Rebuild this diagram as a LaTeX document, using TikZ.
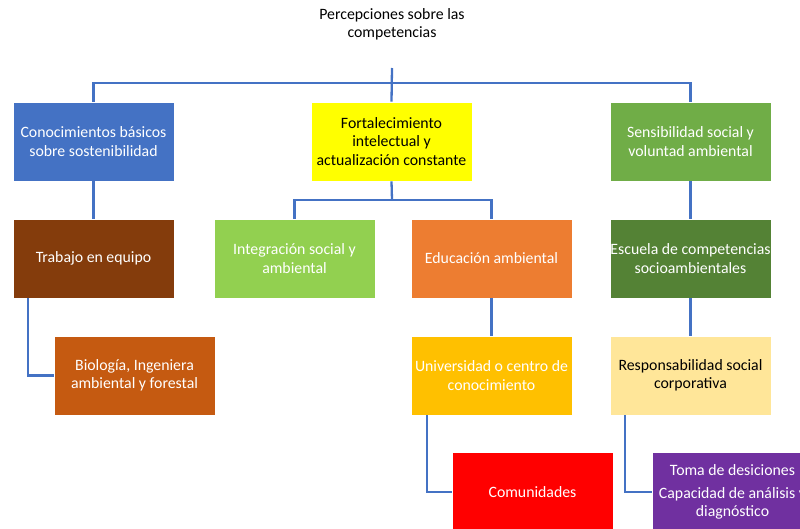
\documentclass[tikz,border=0pt]{standalone}
\usepackage{fontspec}
\setmainfont{Carlito}
\begin{document}
\begin{tikzpicture}[x=1pt,y=-1pt,
  box/.style={minimum width=161pt,minimum height=79pt,inner sep=0pt,align=center,draw=white,line width=0.6pt,font=\fontsize{15.8}{18.5}\selectfont,text=white},
  conn/.style={draw=blueline,line width=2.3pt}]
\definecolor{blueline}{HTML}{4472C4}
\definecolor{cblue}{HTML}{4472C4}
\definecolor{cyellow}{HTML}{FFFF00}
\definecolor{cgreen}{HTML}{70AD47}
\definecolor{cbrown}{HTML}{843C0C}
\definecolor{clgreen}{HTML}{92D050}
\definecolor{corange}{HTML}{ED7D31}
\definecolor{cdgreen}{HTML}{548235}
\definecolor{crust}{HTML}{C55A11}
\definecolor{cgold}{HTML}{FFC000}
\definecolor{ccream}{HTML}{FFE699}
\definecolor{cred}{HTML}{FF0000}
\definecolor{cpurple}{HTML}{7030A0}
\useasboundingbox (0,0) rectangle (800,529);
\clip (0,0) rectangle (800,529);
\node[align=center,font=\fontsize{15.8}{18}\selectfont] (title) at (392,24) {Percepciones sobre las\\competencias};
\node[box,fill=cblue] (conoc) at (93.5,141.5) {Conocimientos básicos\\sobre sostenibilidad};
\node[box,fill=cyellow,text=black] (fort) at (391.5,141.5) {Fortalecimiento\\intelectual y\\actualización constante};
\node[box,fill=cgreen] (sens) at (690.5,141.5) {Sensibilidad social y\\voluntad ambiental};
\node[box,fill=cbrown] (trab) at (93.5,258.5) {Trabajo en equipo};
\node[box,fill=clgreen] (integ) at (294.5,258.5) {Integración social y\\ambiental};
\node[box,fill=corange] (educ) at (491.5,258.5) {Educación ambiental};
\node[box,fill=cdgreen] (escu) at (690.5,258.5) {Escuela de competencias\\socioambientales};
\node[box,fill=crust] (bio) at (134.5,375.5) {Biología, Ingeniera\\ambiental y forestal};
\node[box,fill=cgold] (univ) at (491.5,375.5) {Universidad o centro de\\conocimiento};
\node[box,fill=ccream,text=black] (resp) at (690.5,375.5) {Responsabilidad social\\corporativa};
\node[box,fill=cred] (comu) at (532.5,492) {Comunidades};
\node[box,fill=cpurple] (toma) at (732.5,492) {Toma de desiciones\\[4pt]Capacidad de análisis y\\diagnóstico};
\coordinate (top) at (392,68);
\coordinate (bar) at (392,83);
\coordinate (fb) at (392,200);
\draw[conn] (top) -- (fort.north);
\draw[conn] (conoc.north) |- (bar) -| (sens.north);
\draw[conn] (conoc.south) -- (trab.north);
\draw[conn] (fort.south) -- (fb);
\draw[conn] (integ.north) |- (fb) -| (educ.north);
\draw[conn] (sens.south) -- (escu.north);
\draw[conn] ([xshift=15pt]trab.south west) |- (bio.west);
\draw[conn] (educ.south) -- (univ.north);
\draw[conn] ([xshift=16pt]univ.south west) |- (comu.west);
\draw[conn] (escu.south) -- (resp.north);
\draw[conn] ([xshift=15pt]resp.south west) |- (toma.west);
\end{tikzpicture}
\end{document}
